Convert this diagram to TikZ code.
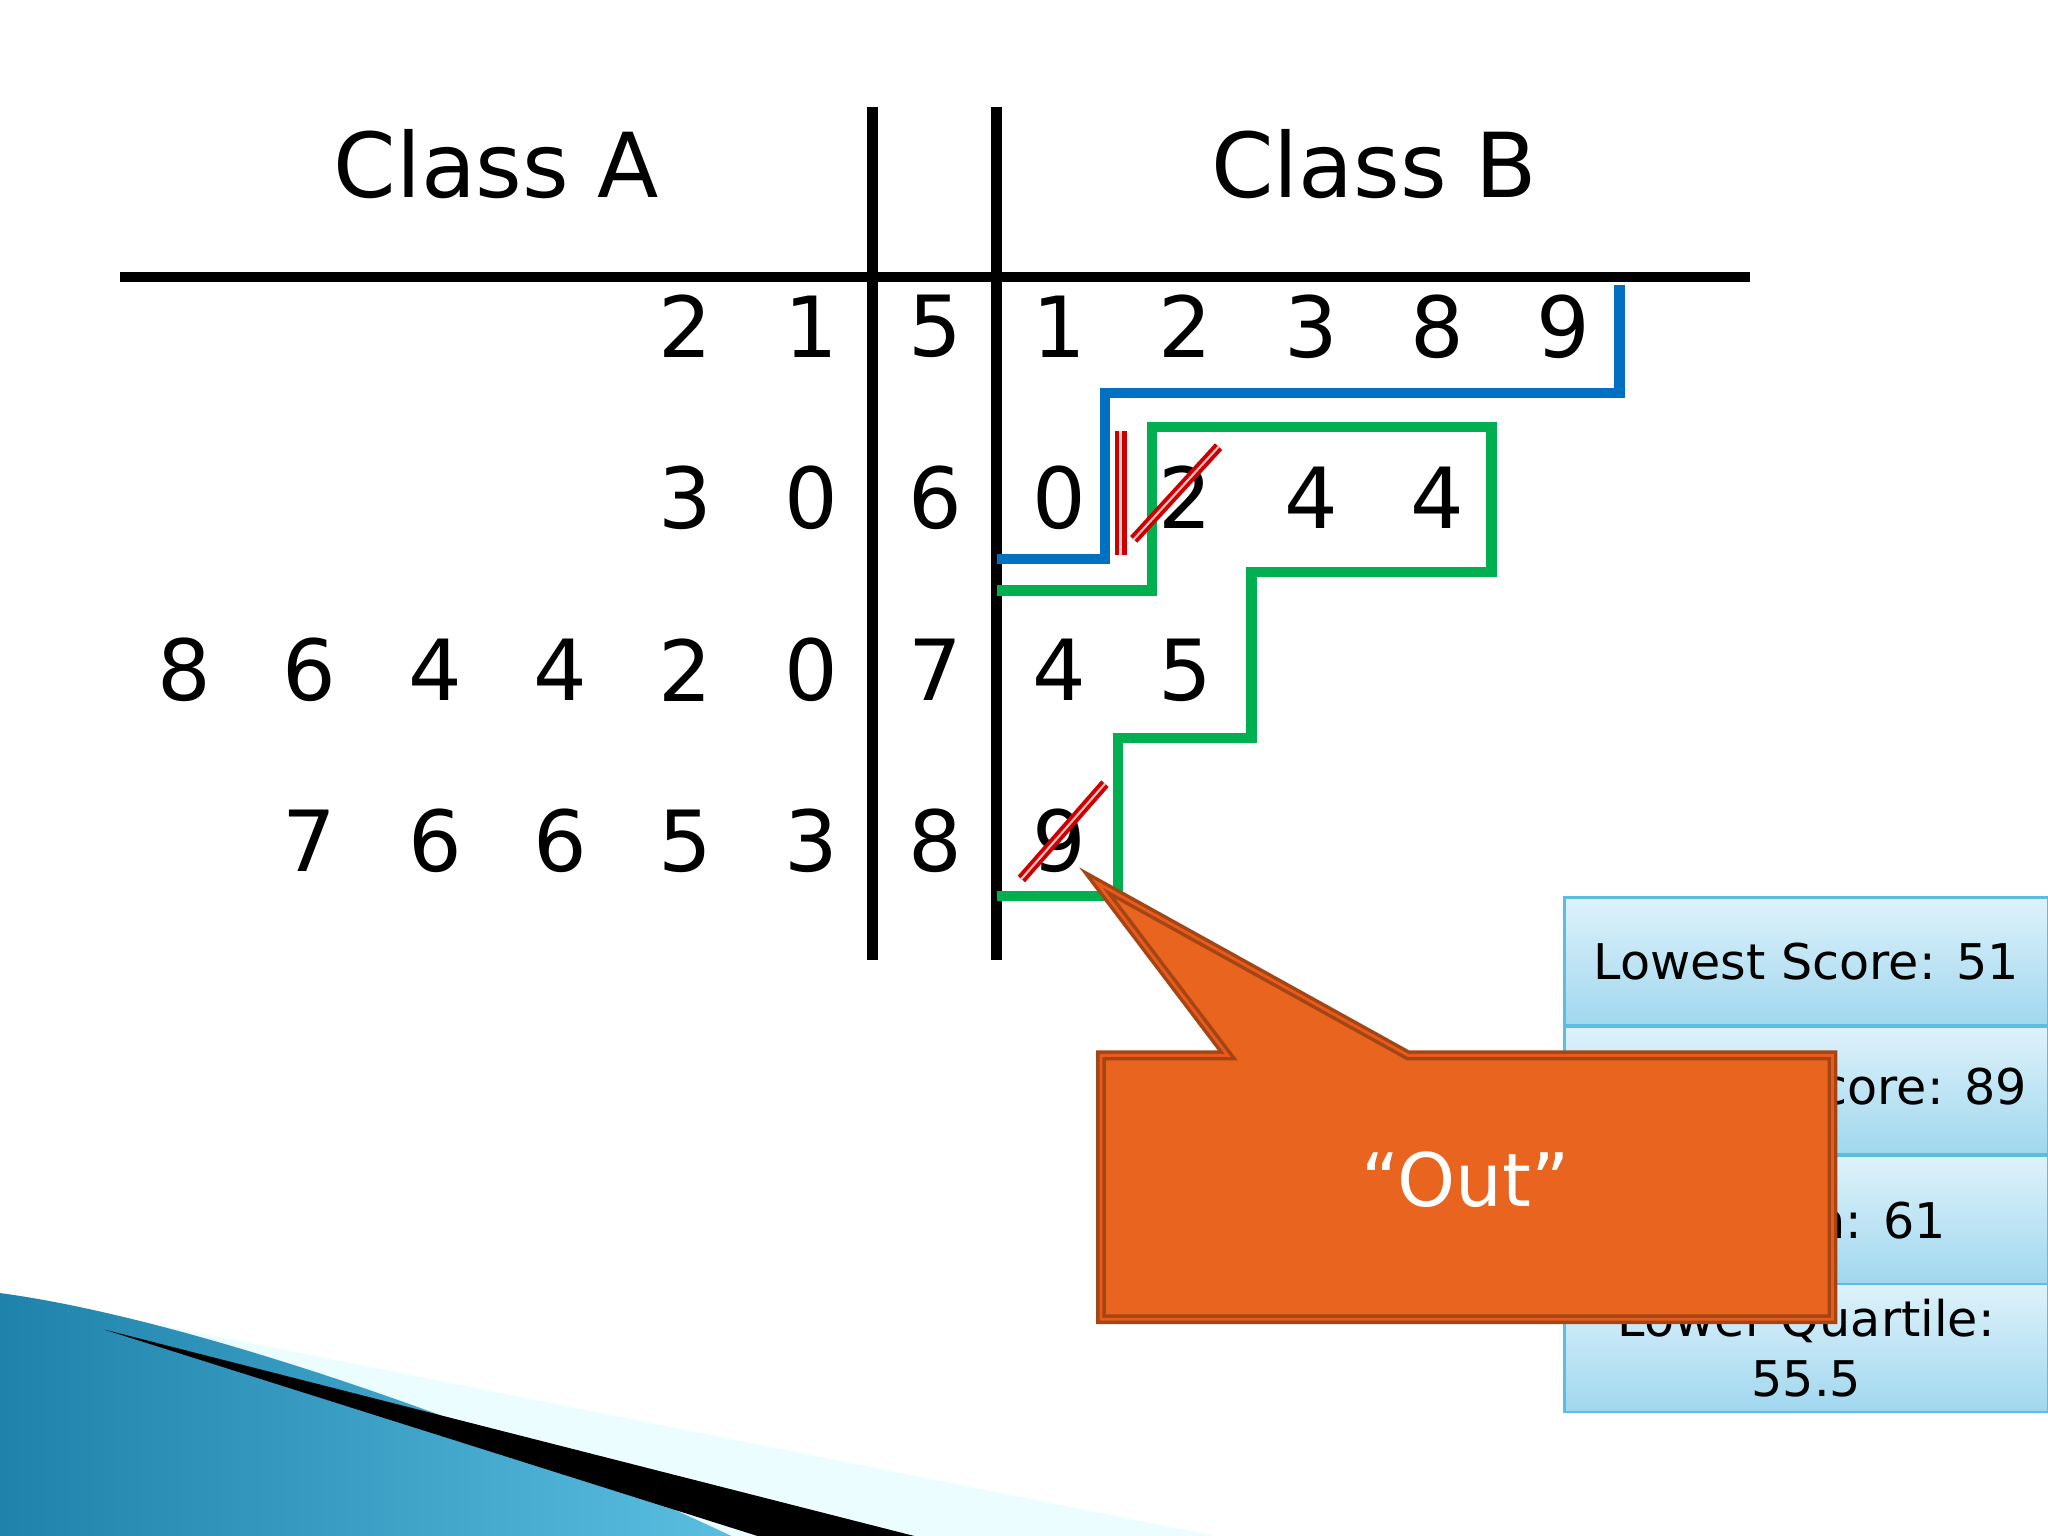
\documentclass[tikz,border=0pt]{standalone}
\usepackage{fontspec}
\setmainfont{DejaVu Sans}
\definecolor{pblue}{RGB}{0,112,192}
\definecolor{pgreen}{RGB}{0,176,80}
\definecolor{porange}{RGB}{233,100,30}
\definecolor{ibox1}{RGB}{222,242,250}
\definecolor{ibox2}{RGB}{160,215,238}
\definecolor{teal1}{RGB}{30,130,170}
\definecolor{teal2}{RGB}{90,190,225}
\begin{document}
\begin{tikzpicture}[x=0.013061cm,y=-0.013061cm,
 dig/.style={font=\fontsize{24}{28}\selectfont},
 ttl/.style={font=\fontsize{25.5}{30}\selectfont},
 blk/.style={line width=3pt},
 info/.style={draw=teal2,line width=0.8pt,top color=ibox1,bottom color=ibox2,minimum width=370*0.013061cm,minimum height=98*0.013061cm,font=\fontsize{14}{17}\selectfont,align=center,inner sep=0pt}]
\useasboundingbox (0,0) rectangle (1568,1176);
% decoration
\fill[blue!10!cyan!8] (0,990) -- (930,1176) -- (0,1176) -- cycle;
\shade[left color=teal1,right color=teal2] (0,990) .. controls (150,1010) and (400,1100) .. (560,1176) -- (0,1176) -- cycle;
\fill[black] (80,1018) -- (700,1176) -- (580,1176) -- cycle;
% titles
\node[ttl] (ca) at (380,126) {Class A};
\node[ttl] (cb) at (1052,126) {Class B};
% lines
\coordinate (h1) at (92,212); \coordinate (h2) at (1340,212);
\draw[blk] (h1) -- (h2);
\coordinate (v1a) at (668,82); \coordinate (v1b) at (668,735);
\coordinate (v2a) at (763,82); \coordinate (v2b) at (763,735);
\draw[blk] (v1a) -- (v1b); \draw[blk] (v2a) -- (v2b);
% digits
\foreach \r/\y/\a/\s/\b in {0/250/{,,,,2,1}/5/{1,2,3,8,9},1/381/{,,,,3,0}/6/{0,2,4,4},2/513/{8,6,4,4,2,0}/7/{4,5},3/644/{,7,6,6,5,3}/8/{9}}{
 \foreach \d [count=\i] in \a {\node[dig] (a\r\i) at ({141+96*(\i-1)},\y) {\d};}
 \node[dig] (s\r) at (716,\y) {\s};
 \foreach \d [count=\i] in \b {\node[dig] (b\r\i) at ({811+96.5*(\i-1)},\y) {\d};}
}
% paths
\draw[line width=3pt,pblue] (763,428) -- (846,428) -- (846,301) -- (1240,301) -- (1240,218);
\draw[line width=3pt,pgreen] (763,452) -- (882,452) -- (882,327) -- (1142,327) -- (1142,438) -- (958,438) -- (958,565) -- (856,565) -- (856,686) -- (763,686);
\draw[red!80!black,line width=1.2pt,double=white!80!red,double distance=1pt] (858,330) -- (858,425);
\draw[red!80!black,line width=1.1pt,double=pink,double distance=0.6pt] (868,413) -- (933,342);
\draw[red!80!black,line width=1.1pt,double=pink,double distance=0.6pt] (782,673) -- (846,600);
% info boxes
\node[info] (i1) at (1383,736) {Lowest Score: 51};
\node[info] (i2) at (1383,835) {Highest Score: 89};
\node[info] (i3) at (1383,934) {Median: 61};
\node[info] (i4) at (1383,1032) {Lower Quartile:\\55.5};
% callout
\draw[draw=porange!70!black,line width=1pt,fill=porange,double=porange!90!red,double distance=0.8pt] (843,808) -- (940,808) -- (840,676) -- (1078,808) -- (1403,808) -- (1403,1010) -- (843,1010) -- cycle;
\node[text=white,font=\fontsize{21}{25}\selectfont] (out) at (1122,903) {“Out”};
\end{tikzpicture}
\end{document}
